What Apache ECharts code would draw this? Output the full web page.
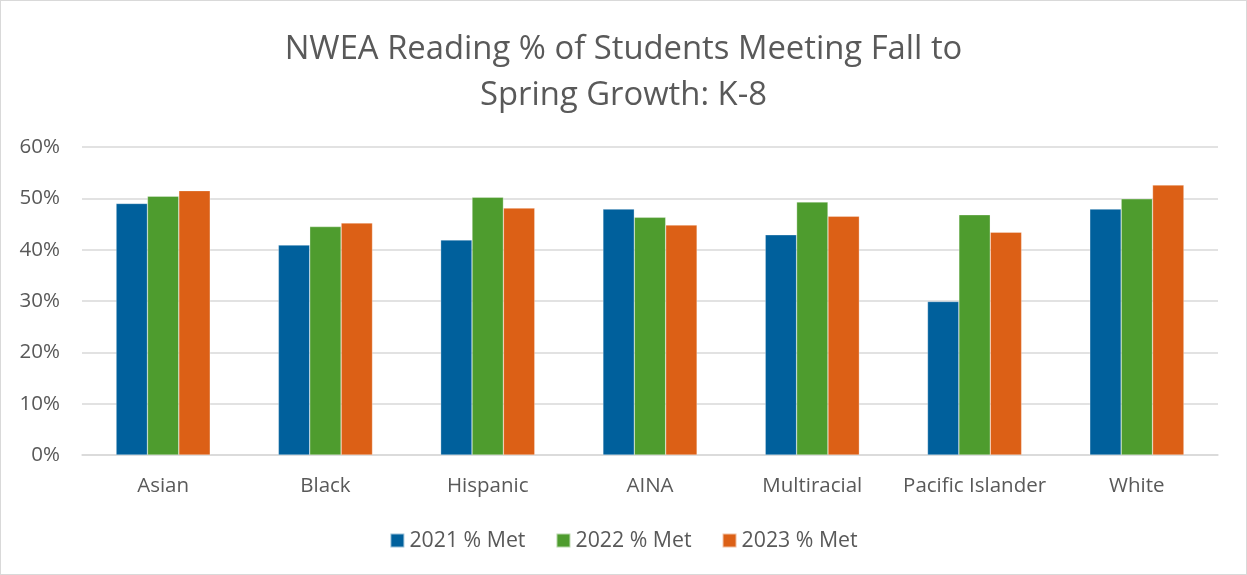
<!DOCTYPE html>
<html><head><meta charset="utf-8">
<script src="https://cdn.jsdelivr.net/npm/echarts@6/dist/echarts.min.js"></script>
<style>
html,body{margin:0;padding:0;background:#fff;}
#c{width:1245px;height:573px;border:1px solid #d9d9d9;}
</style></head>
<body><div id="c"></div>
<script>
const categories = ['Asian','Black','Hispanic','AINA','Multiracial','Pacific Islander','White'];
const seriesNames = ['2021 % Met','2022 % Met','2023 % Met'];
const met2021 = [49.0, 40.9, 41.9, 47.9, 42.9, 29.9, 47.9];
const met2022 = [50.4, 44.5, 50.2, 46.3, 49.3, 46.8, 49.9];
const met2023 = [51.5, 45.2, 48.1, 44.8, 46.5, 43.4, 52.6];
const colors = ['#00609C','#4E9C2E','#DC6016'];
const font = 'Open Sans';
const chart = echarts.init(document.getElementById('c'));
const data = [met2021, met2022, met2023];
chart.setOption({
  animation:false,
  title:{text:'NWEA Reading % of Students Meeting Fall to\nSpring Growth: K-8',left:'center',top:21,
    textStyle:{fontFamily:font,fontSize:32.8,fontWeight:'normal',color:'#595959',lineHeight:46}},
  legend:{bottom:18,left:'center',itemWidth:14,itemHeight:14,itemGap:30,icon:'rect',
    textStyle:{fontFamily:font,fontSize:21.3,color:'#595959'},data:seriesNames},
  grid:{left:81,right:28,top:146,bottom:119},
  xAxis:{type:'category',data:categories,axisTick:{show:false},
    axisLine:{lineStyle:{color:'#d9d9d9',width:1.5}},
    axisLabel:{interval:0,fontFamily:font,fontSize:20.5,color:'#595959',margin:21}},
  yAxis:{type:'value',min:0,max:60,interval:10,
    axisLabel:{formatter:'{value}%',fontFamily:font,fontSize:20.5,color:'#595959',margin:22},
    splitLine:{lineStyle:{color:'#d9d9d9',width:1.5}}},
  series: seriesNames.map((n,i)=>({name:n,type:'bar',data:data[i],barGap:'0%',barCategoryGap:'42%',
    itemStyle:{color:colors[i],borderColor:'rgba(255,255,255,0.6)',borderWidth:0.5}}))
});
</script></body></html>
